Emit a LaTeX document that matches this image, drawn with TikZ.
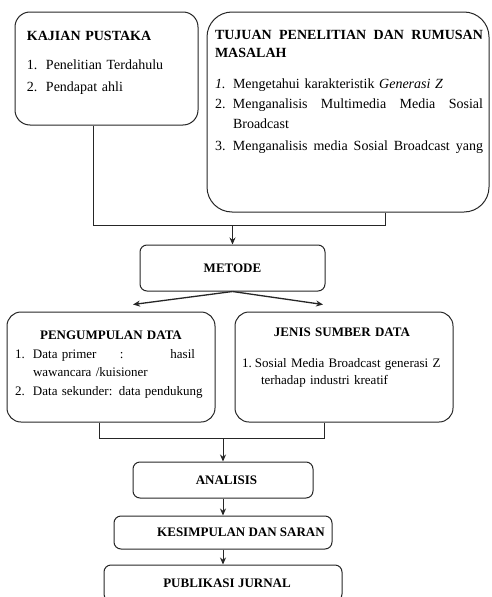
\documentclass[tikz,border=0pt]{standalone}
\usepackage{fontspec}
\setmainfont{Liberation Serif}
\usetikzlibrary{shapes, arrows, arrows.meta, calc, positioning}
\newcommand{\itemno}[2][18pt]{\makebox[#1][l]{#2}}

\begin{document}
\begin{tikzpicture}[x=1pt, y=-1pt, >={Stealth[length=7pt, width=6pt]}, line width=1pt, color=black!85, text=black]
	\tikzstyle{panel} = [draw, rounded corners=14pt, inner sep=0pt]
	\tikzstyle{isi} = [anchor=north west, inner sep=0pt, align=left]
	\tikzstyle{tahap} = [draw, rounded corners=7pt, font=\fontsize{13}{16}\selectfont\bfseries]

	\useasboundingbox (0,0) rectangle (491,597);
	\clip (0,0) rectangle (491,597);

	% kotak atas
	\node[panel, minimum width=183pt, minimum height=113pt, rounded corners=15pt] (kajian) at (106.5,68.5) {};
	\node[isi, text width=165pt, font=\fontsize{14}{22}\selectfont] (kajianisi) at ([xshift=12pt, yshift=-19.7pt]kajian.north west) {
		\textbf{KAJIAN PUSTAKA}\\[7pt]
		\itemno[19pt]{1.}Penelitian Terdahulu\\
		\itemno[19pt]{2.}Pendapat ahli};

	\node[panel, minimum width=282pt, minimum height=200pt, rounded corners=25pt] (tujuan) at (348,112) {};
	\node[isi, text width=268pt, font=\fontsize{14}{20}\selectfont] (tujuanisi) at ([xshift=8pt, yshift=-18.7pt]tujuan.north west) {
		{\bfseries TUJUAN\hfill PENELITIAN\hfill DAN\hfill RUMUSAN\\[-2.5pt] MASALAH}\\[11.5pt]
		\itemno{\textit{1.}}Mengetahui karakteristik \textit{Generasi Z}\\
		\itemno{2.}Menganalisis\hfill Multimedia\hfill Media\hfill Sosial\\
		\hspace*{18pt}Broadcast\\[2pt]
		\itemno{3.}Menganalisis\hfill media\hfill Sosial\hfill Broadcast\hfill yang};

	% metode
	\node[tahap, minimum width=185pt, minimum height=46pt] (metode) at (232.5,268) {METODE};

	\node[panel, minimum width=208pt, minimum height=110pt] (kumpul) at (111,367) {};
	\node[isi, text width=180pt, font=\fontsize{13}{18.5}\selectfont] (kumpulisi) at ([xshift=8pt, yshift=-18.9pt]kumpul.north west) {
		\makebox[\linewidth]{\hspace*{12pt}\bfseries PENGUMPULAN DATA}\\
		\itemno{1.}Data primer\hfill:\hfill\hfill hasil\\
		\hspace*{18pt}wawancara /kuisioner\\
		\mbox{\itemno{2.}Data sekunder: data pendukung}};

	\node[panel, minimum width=218pt, minimum height=110pt] (jenis) at (344,367) {};
	\node[isi, text width=200pt, font=\fontsize{13}{17}\selectfont] (jenisisi) at ([xshift=7pt, yshift=-15.9pt]jenis.north west) {
		\makebox[\linewidth]{\bfseries JENIS SUMBER DATA}\\[14pt]
		\itemno[13pt]{1.}Sosial Media Broadcast generasi Z\\
		\hspace*{19pt}terhadap industri kreatif};

	% tahap akhir
	\node[tahap, minimum width=180pt, minimum height=36pt] (analisis) at (223,480) {\hspace*{7pt}ANALISIS};
	\node[tahap, minimum width=218pt, minimum height=33pt] (simpulan) at (223,532.5) {\hspace*{36pt}KESIMPULAN DAN SARAN};
	\node[tahap, minimum width=238pt, minimum height=36pt] (publikasi) at (223,583) {\hspace*{8pt}PUBLIKASI JURNAL};

	\coordinate (gabung1) at ([yshift=19pt]metode.north);
	\coordinate (gabung2) at ([yshift=23pt]analisis.north);

	\draw ([xshift=-13.5pt]kajian.south) |- (gabung1) -| ([xshift=37pt]tujuan.south);
	\draw[->] (gabung1) -- (metode.north);
	\draw[->, line width=1.3pt] (metode.south) -- ([xshift=22pt, yshift=7pt]kumpul.north);
	\draw[->, line width=1.3pt] (metode.south) -- ([xshift=-21pt, yshift=7pt]jenis.north);
	\draw ([xshift=-12pt]kumpul.south) |- (gabung2) -| ([xshift=-20pt]jenis.south);
	\draw[->] (gabung2) -- (analisis.north);
	\draw[->] (analisis) -- (simpulan);
	\draw[->] (simpulan) -- (publikasi);
\end{tikzpicture}
\end{document}
